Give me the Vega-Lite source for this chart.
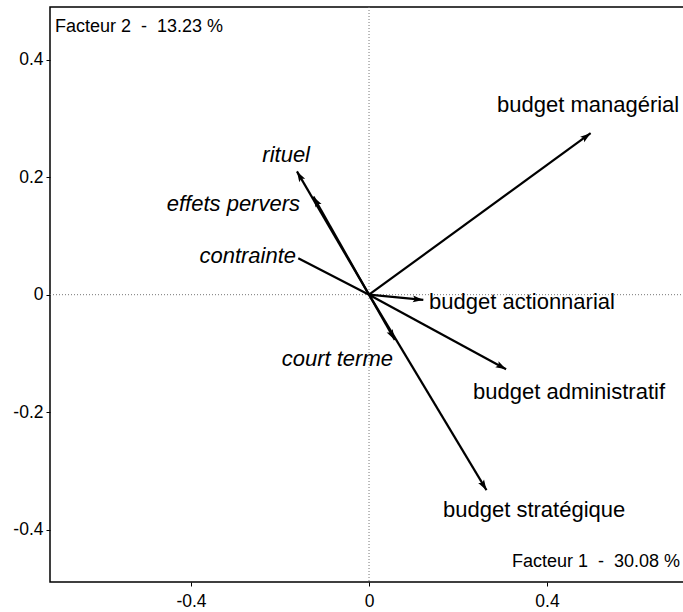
{
  "$schema": "https://vega.github.io/schema/vega-lite/v6.json",
  "autosize": "none",
  "width": 640,
  "height": 575,
  "padding": {"left": 50, "top": 7, "right": 0, "bottom": 30},
  "background": "white",
  "config": {
    "view": {"stroke": "black", "strokeWidth": 1.5},
    "font": "Liberation Sans",
    "axis": {"domain": false, "grid": false, "ticks": true, "tickColor": "black", "tickSize": 4, "labelColor": "black", "labelFont": "Liberation Sans", "labelFontSize": 17.5, "title": null}
  },
  "datasets": {
    "vec": [
      {"name": "budget managérial", "x": 0.498, "y": 0.275, "lx": 0.2876, "ly": 0.3232},
      {"name": "budget actionnarial", "x": 0.122, "y": -0.009, "lx": 0.1348, "ly": -0.0124},
      {"name": "budget administratif", "x": 0.308, "y": -0.127, "lx": 0.2337, "ly": -0.1658},
      {"name": "budget stratégique", "x": 0.264, "y": -0.333, "lx": 0.1663, "ly": -0.3668},
      {"name": "rituel", "x": -0.162, "y": 0.21, "lx": -0.1326, "ly": 0.238},
      {"name": "effets pervers", "x": -0.125, "y": 0.167, "lx": -0.1551, "ly": 0.1545},
      {"name": "contrainte", "x": -0.159, "y": 0.062, "lx": -0.164, "ly": 0.0659},
      {"name": "court terme", "x": 0.058, "y": -0.077, "lx": 0.0539, "ly": -0.1095}
    ],
    "one": [{"k": 1}]
  },
  "encoding": {
    "x": {"type": "quantitative", "scale": {"domain": [-0.7169, 0.7213], "nice": false, "zero": false},
      "axis": {"values": [-0.4, 0, 0.4], "labelExpr": "'' + datum.value", "labelPadding": 6}},
    "y": {"type": "quantitative", "scale": {"domain": [-0.4894, 0.49], "nice": false, "zero": false},
      "axis": {"values": [-0.4, -0.2, 0, 0.2, 0.4], "labelExpr": "'' + datum.value", "labelPadding": 3}}
  },
  "layer": [
    {"data": {"name": "one"}, "mark": {"type": "rule", "color": "#777777", "strokeWidth": 1, "strokeDash": [1, 2]}, "encoding": {"x": {"datum": 0}}},
    {"data": {"name": "one"}, "mark": {"type": "rule", "color": "#777777", "strokeWidth": 1, "strokeDash": [1, 2]}, "encoding": {"y": {"datum": 0}}},
    {
      "data": {"name": "vec"},
      "mark": {"type": "rule", "color": "black", "strokeWidth": 2.2},
      "encoding": {
        "x": {"field": "x", "type": "quantitative"},
        "y": {"field": "y", "type": "quantitative"},
        "x2": {"datum": 0},
        "y2": {"datum": 0}
      }
    },
    {
      "data": {"name": "vec"},
      "transform": [
        {"filter": "datum.name != 'contrainte'"},
        {"calculate": "atan2(datum.x * 445, datum.y * 587) * 180 / PI", "as": "angle"}
      ],
      "mark": {"type": "point", "shape": "M0,0L-0.65,2L0,1.6L0.65,2Z", "filled": true, "color": "black", "opacity": 1, "size": 110, "strokeWidth": 0},
      "encoding": {
        "x": {"field": "x", "type": "quantitative"},
        "y": {"field": "y", "type": "quantitative"},
        "angle": {"field": "angle", "type": "quantitative", "scale": null}
      }
    },
    {
      "data": {"name": "vec"},
      "transform": [{"filter": "indexof(datum.name, 'budget') == 0"}],
      "mark": {"type": "text", "align": "left", "baseline": "middle", "fontSize": 22, "color": "black"},
      "encoding": {
        "x": {"field": "lx", "type": "quantitative"},
        "y": {"field": "ly", "type": "quantitative"},
        "text": {"field": "name"}
      }
    },
    {
      "data": {"name": "vec"},
      "transform": [{"filter": "indexof(datum.name, 'budget') != 0"}],
      "mark": {"type": "text", "align": "right", "baseline": "middle", "fontSize": 22, "fontStyle": "italic", "color": "black"},
      "encoding": {
        "x": {"field": "lx", "type": "quantitative"},
        "y": {"field": "ly", "type": "quantitative"},
        "text": {"field": "name"}
      }
    },
    {
      "data": {"name": "one"},
      "mark": {"type": "text", "text": "Facteur 2\u00a0 -\u00a0 13.23 %", "align": "left", "baseline": "middle", "fontSize": 18, "color": "black"},
      "encoding": {"x": {"datum": -0.7056}, "y": {"datum": 0.456}}
    },
    {
      "data": {"name": "one"},
      "mark": {"type": "text", "text": "Facteur 1\u00a0 -\u00a0 30.08 %", "align": "right", "baseline": "middle", "fontSize": 18, "color": "black"},
      "encoding": {"x": {"datum": 0.699}, "y": {"datum": -0.455}}
    }
  ]
}
